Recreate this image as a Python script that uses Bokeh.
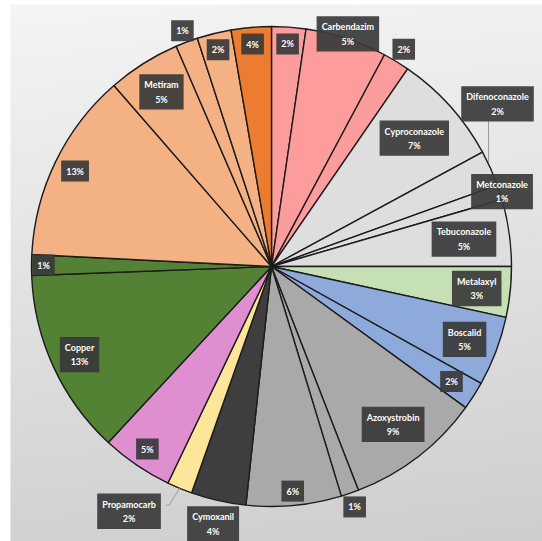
import numpy as np
from bokeh.plotting import figure
from bokeh.models import Range1d, Label
from bokeh.embed import file_html
from bokeh.resources import INLINE

# ---- data, clockwise from 12 o'clock ----
names = ["", "Carbendazim", "", "Cyproconazole", "Difenoconazole", "Metconazole",
         "Tebuconazole", "Metalaxyl", "Boscalid", "", "Azoxystrobin", "", "",
         "Cymoxanil", "Propamocarb", "", "Copper", "", "", "Metiram", "", "", ""]
pct_labels = ["2%", "5%", "2%", "7%", "2%", "1%", "5%", "3%", "5%", "2%", "9%", "1%",
              "6%", "4%", "2%", "5%", "13%", "1%", "13%", "5%", "1%", "2%", "4%"]
values = [2.3, 5.5, 1.8, 7.5, 2.4, 1.0, 4.5, 3.4, 4.7, 1.9, 9.1, 1.2,
          6.4, 3.7, 1.7, 4.8, 12.5, 1.4, 12.8, 4.9, 1.5, 2.3, 2.7]

# ---- styles ----
PINK, LGRAY, LGREEN, BLUE = "#fc9c9c", "#dedede", "#c6e0b5", "#8eaadb"
MGRAY, DGRAY, YELLOW, ORCHID = "#a9a9a9", "#3e3e3e", "#fde59a", "#df8ed0"
GREEN, LORANGE, ORANGE = "#548235", "#f4b183", "#ec7c30"
colors = [PINK, PINK, PINK, LGRAY, LGRAY, LGRAY, LGRAY, LGREEN, BLUE, BLUE,
          MGRAY, MGRAY, MGRAY, DGRAY, YELLOW, ORCHID, GREEN, GREEN,
          LORANGE, LORANGE, LORANGE, LORANGE, ORANGE]
label_r = [0.93, 1.02, 1.06, 0.80, 1.16, 1.01, 0.81, 0.86, 0.86, 0.89, 0.83, 1.06,
           0.94, 1.10, 1.18, 0.92, 0.88, 0.95, 0.91, 0.86, 1.05, 0.93, 0.93]
label_dtheta = [0] * len(values)
label_dtheta[4] = -11.6
label_dtheta[14] = 7.7

W, H = 542, 541
CX, CY, R = 271, H - 266, 240

p = figure(width=W, height=H, output_backend="svg", toolbar_location=None,
           x_range=Range1d(0, W), y_range=Range1d(0, H), min_border=0)
p.axis.visible = False
p.grid.visible = False
p.outline_line_color = None
p.background_fill_color = "white"
p.border_fill_color = "white"

# background gradient (style only)
yy, xx = np.mgrid[0:H, 0:W]
py = H - 1 - yy
val = 245 - 35 * (py / H) - 4 * (xx / W)
img = np.full((H, W), 0, dtype=np.uint32)
v = np.clip(val, 0, 255).astype(np.uint32)
v[(xx < 10) | (py < 4)] = 255
view = img.view(dtype=np.uint8).reshape((H, W, 4))
view[:, :, 0] = v
view[:, :, 1] = v
view[:, :, 2] = v
view[:, :, 3] = 255
p.image_rgba(image=[img], x=0, y=0, dw=W, dh=H)

tot = float(sum(values))
cum = np.cumsum([0] + values) / tot
starts = np.pi / 2 - 2 * np.pi * cum[:-1]
ends = np.pi / 2 - 2 * np.pi * cum[1:]

p.wedge(x=CX, y=CY, radius=R, start_angle=list(starts), end_angle=list(ends),
        direction="clock", fill_color=colors, line_color="#1c1c1c", line_width=1.4)

mids = (cum[:-1] + cum[1:]) / 2 * 360.0  # clockwise degrees from top

# leader lines
for i in (4, 14):
    th = np.radians(mids[i])
    ax, ay = CX + R * np.sin(th), CY + R * np.cos(th)
    th2 = np.radians(mids[i] + label_dtheta[i])
    lx, ly = CX + label_r[i] * R * np.sin(th2), CY + label_r[i] * R * np.cos(th2)
    if i == 4:
        p.line([ax - 2, ax - 2], [ay + 6, ly - 15], line_color="#9a9a9a", line_width=1)
    else:
        p.line([ax, lx + 40, lx + 37], [ay, ly + 6, ly + 6], line_color="#9a9a9a", line_width=1)

for i in range(len(values)):
    th = np.radians(mids[i] + label_dtheta[i])
    lx = CX + label_r[i] * R * np.sin(th)
    ly = CY + label_r[i] * R * np.cos(th)
    txt = (names[i] + "\n" + pct_labels[i]) if names[i] else pct_labels[i]
    lab = Label(x=lx, y=ly, text=txt, text_align="center", text_baseline="middle",
                text_color="white", text_font="Lato", text_font_style="bold",
                text_font_size="9px", text_line_height=1.3,
                background_fill_color="#3a3a3a", background_fill_alpha=0.92,
                padding=5)
    p.add_layout(lab)

open("out.html", "w").write(file_html(p, INLINE))
